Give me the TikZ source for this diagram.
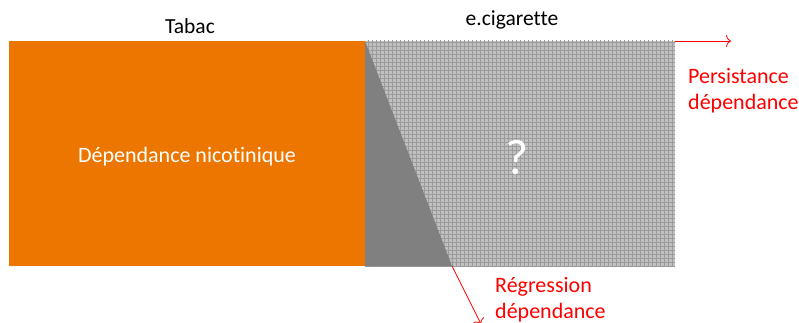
\documentclass[tikz,border=0pt]{standalone}
\usepackage{fontspec}
\setmainfont{Carlito}[Ligatures=NoCommon]
\usetikzlibrary{arrows.meta}
\definecolor{orng}{RGB}{237,118,0}
\definecolor{lgrey}{RGB}{192,192,192}
\definecolor{gline}{RGB}{155,155,155}
\definecolor{dgrey}{RGB}{128,128,128}
\begin{document}
\begin{tikzpicture}[x=1pt,y=1pt,
  box/.style={inner sep=0pt, outer sep=0pt, minimum height=225pt},
  lbl/.style={font=\fontsize{21.5}{24}\selectfont, inner sep=0pt},
  redlbl/.style={font=\fontsize{22}{26}\selectfont, text=red, align=left, inner sep=0pt},
  redarrow/.style={red, line width=0.8pt, -{To[length=5pt,width=12pt]}}]
\useasboundingbox (0,0) rectangle (799,322);
% orange box
\node[box, fill=orng, minimum width=356pt] (tabacbox) at (187,168.5) {};
\node[text=white, font=\fontsize{22}{24}\selectfont, inner sep=0pt] (dep) at (187,165) {Dépendance nicotinique};
% grey patterned box
\node[box, fill=lgrey, minimum width=310pt] (ecigbox) at (520,168.5) {};
\begin{scope}
\clip (ecigbox.south west) rectangle (ecigbox.north east);
\draw[gline, line width=0.6pt] (365,56) grid[step=4pt] (676,282);
\end{scope}
% dark triangle
\coordinate (tribase) at (452,56);
\fill[dgrey] (ecigbox.north west) -- (ecigbox.south west) -- (tribase) -- cycle;
\node[text=white, font=\fontsize{50}{54}\selectfont, inner sep=0pt] (q) at (517,164) {?};
% titles
\node[lbl] (tabac) at (190,296) {Tabac};
\node[lbl] (ecig) at (512,302) {e.cigarette};
% arrows
\coordinate (persend) at (731,281);
\draw[redarrow] (ecigbox.north east) -- (persend);
\coordinate (regend) at (481,-2);
\draw[redarrow] (tribase) -- (regend);
\node[redlbl, anchor=north west] (pers) at (688,254) {Persistance\\dépendance};
\node[redlbl, anchor=north west] (reg) at (495,45) {Régression\\dépendance};
\end{tikzpicture}
\end{document}
